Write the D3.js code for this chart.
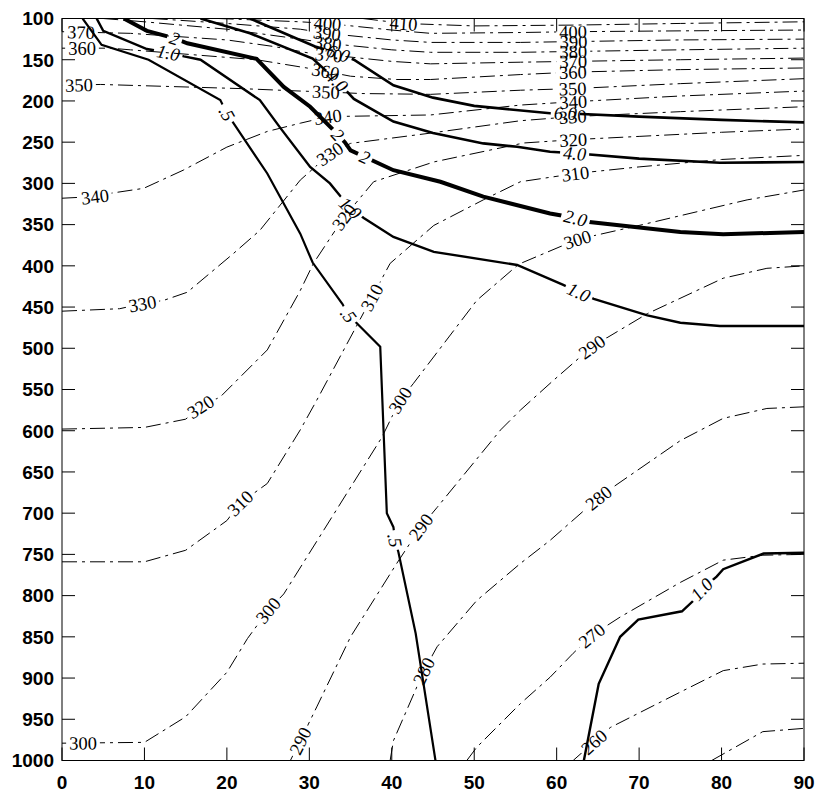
<!DOCTYPE html>
<html>
<head>
<meta charset="utf-8">
<script src="https://cdn.jsdelivr.net/npm/d3@7"></script>
<style>
  body { margin: 0; background: #fff; }
  svg { display: block; }
</style>
</head>
<body>
<svg id="chart" width="816" height="792"></svg>
<script>
// ---- Axis ticks -------------------------------------------------------
const latTicks = [0, 10, 20, 30, 40, 50, 60, 70, 80, 90];
const presTicks = [100, 150, 200, 250, 300, 350, 400, 450, 500, 550,
                   600, 650, 700, 750, 800, 850, 900, 950, 1000];

// ---- Potential temperature contours (K): [latitude, pressure hPa] -----
const theta250 = [[78.8,1000],[85,965],[90,961]];
const theta260 = [[62,1000],[66.5,960],[75,917],[80.2,891],[85,883],[90,882]];
const theta270 = [[49.1,1000],[50.3,984],[55.6,931],[59.2,899],[62,870],[64.3,848],[67.7,826],[75,784],[80.2,757],[85,751],[90,750]];
const theta280 = [[39.8,1000],[40.2,976],[43.9,891],[45.5,862],[50.3,806],[55.6,761],[59.2,733],[65,682],[66.9,668],[75,612],[80.2,585],[85.5,573],[90,571]];
const theta290 = [[27.7,1000],[28.9,976],[30.9,935],[35,850],[40.6,761],[43.5,717],[45.5,693],[53.2,599],[55.6,575],[59.6,539],[64.3,498],[71,458],[80.2,415],[85.5,403],[90,400]];
const theta300 = [[0,979],[10,978],[15,947],[20,893],[22.5,852],[25,818],[26.9,798],[38.8,608],[41,563],[42.6,543],[50.3,442],[55.4,398],[62.5,368],[70,351],[83.1,320],[90,308]];
const theta310 = [[0,759],[10,759],[15,745],[20,709],[21.6,688],[24.9,664],[28.9,599],[30.9,563],[37.6,438],[39.8,397],[45.1,351],[51.1,320],[55.6,298],[62.3,288],[70,280],[80,271],[90,266]];
const theta320 = [[0,598],[10,596],[15,586],[16.8,571],[19.2,559],[24.9,502],[28.9,430],[30.5,397],[34.2,341],[37.8,298],[45.1,274],[56,251],[62,247],[70,243],[80,238],[90,234]];
const theta330 = [[0,455],[7,452],[9.7,446],[12.3,442],[15.2,432],[20.8,385],[24,357],[28.9,296],[32.5,264],[35,251.5],[44.7,239],[55.6,224],[62,219],[75,213],[90,207]];
const theta340 = [[0,318],[4,316],[5.9,312],[9.9,306],[14.7,284],[20,256],[24.9,237],[28.9,227],[32.3,219],[44.7,217],[55.6,205],[62,201],[75,194],[90,188]];
const theta350 = [[0,181],[4.7,180],[21.6,185],[28.9,188],[32,189],[36.2,191],[44.7,192],[55.6,187],[62,185],[75,179],[90,173]];
const theta360 = [[0,136],[5.9,136],[8.3,138],[23.6,150],[30.9,162],[35,170],[40.6,174],[44.7,174],[55.6,168],[62,165],[75,162],[90,160]];
const theta370 = [[0,116],[8.3,118],[20,126],[25.7,134],[30,142],[32.3,144],[40,152],[44.7,155],[55.6,153],[62,152],[75,150],[90,148]];
const theta380 = [[5,100],[10,104],[20,113],[28.9,125],[32.2,130],[40,138],[44.7,141],[55.6,141],[62,140],[75,138],[90,136]];
const theta390 = [[11,100],[20,106],[28.9,113],[32.2,118],[40,126],[44.7,129],[55.6,129],[62,128],[75,126],[90,125]];
const theta400 = [[19,100],[28.9,104],[32.2,106],[40,114],[44.7,118],[55.6,117],[62,116],[75,115],[90,114]];
const theta410 = [[36.5,100],[41.4,106],[50,109],[62,108],[75,106],[90,104]];

// label anchor points along each isentrope
const theta260Labels = [[64.3,974]];
const theta270Labels = [[64.3,848]];
const theta280Labels = [[43.9,891],[65,681]];
const theta290Labels = [[28.9,976],[43.5,717],[64.3,498]];
const theta300Labels = [[2.5,979],[25,818],[41,563],[62.5,368]];
const theta310Labels = [[21.6,688],[37.6,438],[62.3,288]];
const theta320Labels = [[16.8,571],[34.2,341],[62,247]];
const theta330Labels = [[9.7,446],[32.5,264],[62,219]];
const theta340Labels = [[4,316],[32.3,219],[62,201]];
const theta350Labels = [[2.1,181],[32,189],[62,185]];
const theta360Labels = [[2.4,136],[32,162],[62,165]];
const theta370Labels = [[2.3,116],[32.3,144],[62,152]];
const theta380Labels = [[32.2,130],[62,140]];
const theta390Labels = [[32.2,118],[62,128]];
const theta400Labels = [[32.2,106],[62,116]];
const theta410Labels = [[41.4,106]];

// ---- Potential vorticity contours (PVU) -------------------------------
const pv05 = [[2.5,100],[4.8,132],[10.5,150],[19.2,199],[20,215],[20.8,227],[24.9,288],[28.9,361],[30.4,396],[34,446],[34.8,460],[36,472],[38.6,498],[39.4,700],[40.2,717],[40.4,733],[40.8,747],[42.9,846],[45.3,1000]];
const pv10 = [[4.2,100],[5,115],[10.3,137],[12.9,141.5],[14.8,146],[16.8,150],[24,199],[26.5,233],[30.1,280],[32.5,300],[33.8,316],[35,330],[36.6,342],[40.2,365],[45.1,383],[55.2,399],[60.8,423],[62.7,432],[64.5,440],[71,460],[75,469],[79.8,473],[90,473]];
const pv10Polar = [[63.3,1000],[65.1,907],[67.7,850],[69.9,829],[75.2,819],[76.6,806],[77.6,792],[79.4,777],[80.2,768],[85.1,749],[90,748]];
const pv20 = [[7.5,100],[10.3,115],[13.7,124],[15.2,130],[23.6,149],[26.9,183],[30.1,207],[32.9,235],[34.3,250],[35,260],[40.2,284],[45.9,298],[51.1,316],[59.2,336.5],[62.3,342],[63.7,346.6],[75,359],[80.2,361.6],[90,359]];
const pv40 = [[16.8,100],[22.8,118],[30.4,148.6],[33.3,175],[35.4,197.5],[40.2,225],[45,239],[51.1,251.5],[55.2,255.6],[59.2,261.6],[62.2,263.5],[70,270],[79.8,275],[90,274]];
const pv60 = [[22.8,100],[30.7,134],[33.5,142],[35.4,150],[40.2,181],[45,196],[50,206],[59.2,215],[61,215],[70,219],[80,223],[90,226]];

const pv05Labels = [[20,215,".5"],[34.8,460,".5"],[40.4,733,".5"]];
const pv10Labels = [[12.9,141.5,"1.0"],[35,330,"1.0"],[62.7,432,"1.0"]];
const pv10PolarLabels = [[77.6,792,"1.0"]];
const pv20Labels = [[13.7,124,"2"],[33.6,239,"2"],[36.8,266,"2"],[62.3,342,"2.0"]];
const pv40Labels = [[33.3,175,"4.0"],[62.2,263.5,"4.0"]];
const pv60Labels = [[33.5,142,"6.0"],[61,215,"6.0"]];

// ---- Assemble contour list --------------------------------------------
const thetaContours = [
  [250, theta250, []], [260, theta260, theta260Labels], [270, theta270, theta270Labels],
  [280, theta280, theta280Labels], [290, theta290, theta290Labels], [300, theta300, theta300Labels],
  [310, theta310, theta310Labels], [320, theta320, theta320Labels], [330, theta330, theta330Labels],
  [340, theta340, theta340Labels], [350, theta350, theta350Labels], [360, theta360, theta360Labels],
  [370, theta370, theta370Labels], [380, theta380, theta380Labels], [390, theta390, theta390Labels],
  [400, theta400, theta400Labels], [410, theta410, theta410Labels]
].map(([v, pts, labs]) => ({
  pts, labels: labs.map(l => [l[0], l[1], String(v)]),
  stroke: 1, dash: "15,5,3,5", italic: false
}));

const pvContours = [
  { pts: pv05, labels: pv05Labels, stroke: 2.2 },
  { pts: pv10, labels: pv10Labels, stroke: 2.4 },
  { pts: pv10Polar, labels: pv10PolarLabels, stroke: 2.4 },
  { pts: pv20, labels: pv20Labels, stroke: 4 },
  { pts: pv40, labels: pv40Labels, stroke: 2.6 },
  { pts: pv60, labels: pv60Labels, stroke: 2.6 }
].map(c => ({ ...c, dash: null, italic: true }));

const contours = thetaContours.concat(pvContours);

// ---- Layout -------------------------------------------------------------
const W = 816, H = 792;
const L = 62, R = 804, T = 18.5, B = 760.5;
const x = d3.scaleLinear().domain([0, 90]).range([L, R]);
const y = d3.scaleLinear().domain([100, 1000]).range([T, B]);

const svg = d3.select("#chart");
const defs = svg.append("defs");
defs.append("clipPath").attr("id", "plotClip")
  .append("rect").attr("x", L).attr("y", T).attr("width", R - L).attr("height", B - T);

const lineGen = d3.line().x(d => x(d[0])).y(d => y(d[1]));

const linesG = svg.append("g").attr("clip-path", "url(#plotClip)");
const labelsG = svg.append("g").attr("clip-path", "url(#plotClip)");

const labelFont = 18.5;

contours.forEach((c, i) => {
  const mask = defs.append("mask").attr("id", "lm" + i)
    .attr("maskUnits", "userSpaceOnUse")
    .attr("x", 0).attr("y", 0).attr("width", W).attr("height", H);
  mask.append("rect").attr("width", W).attr("height", H).attr("fill", "white");

  const path = linesG.append("path")
    .attr("d", lineGen(c.pts))
    .attr("fill", "none")
    .attr("stroke", "#000")
    .attr("stroke-width", c.stroke)
    .attr("stroke-dasharray", c.dash)
    .attr("mask", "url(#lm" + i + ")");

  const node = path.node();
  const total = node.getTotalLength();

  c.labels.forEach(([lat, p, txt]) => {
    const tx = x(lat), ty = y(p);
    // nearest position along the contour
    let best = 0, bestD = Infinity;
    for (let s = 0; s <= total; s += 1) {
      const q = node.getPointAtLength(s);
      const d = (q.x - tx) ** 2 + (q.y - ty) ** 2;
      if (d < bestD) { bestD = d; best = s; }
    }
    const pos = node.getPointAtLength(best);
    const a = node.getPointAtLength(Math.max(0, best - 10));
    const b = node.getPointAtLength(Math.min(total, best + 10));
    let ang = Math.atan2(b.y - a.y, b.x - a.x) * 180 / Math.PI;
    if (ang > 90) ang -= 180;
    if (ang <= -90) ang += 180;

    const t = labelsG.append("text")
      .attr("transform", `translate(${pos.x},${pos.y}) rotate(${ang})`)
      .attr("text-anchor", "middle")
      .attr("dy", "0.35em")
      .attr("font-family", "'Liberation Serif', 'Times New Roman', serif")
      .attr("font-size", labelFont)
      .attr("font-style", c.italic ? "italic" : "normal")
      .attr("fill", "#000")
      .text(txt);
    const w = t.node().getComputedTextLength();
    mask.append("rect")
      .attr("x", -w / 2 - 3).attr("y", -7)
      .attr("width", w + 6).attr("height", 14)
      .attr("fill", "black")
      .attr("transform", `translate(${pos.x},${pos.y}) rotate(${ang})`);
  });
});

// ---- Frame and ticks ------------------------------------------------------
const axisG = svg.append("g");
axisG.append("rect")
  .attr("x", L).attr("y", T).attr("width", R - L).attr("height", B - T)
  .attr("fill", "none").attr("stroke", "#000").attr("stroke-width", 1);

const tickLen = 13;
presTicks.forEach(p => {
  axisG.append("line").attr("x1", L).attr("x2", L + tickLen)
    .attr("y1", y(p)).attr("y2", y(p)).attr("stroke", "#000");
  axisG.append("line").attr("x1", R).attr("x2", R - tickLen)
    .attr("y1", y(p)).attr("y2", y(p)).attr("stroke", "#000");
});
latTicks.forEach(l => {
  axisG.append("line").attr("x1", x(l)).attr("x2", x(l))
    .attr("y1", B).attr("y2", B - tickLen).attr("stroke", "#000");
  axisG.append("line").attr("x1", x(l)).attr("x2", x(l))
    .attr("y1", T).attr("y2", T + tickLen).attr("stroke", "#000");
});

const tickFont = "'Liberation Sans', Arial, Helvetica, sans-serif";
axisG.selectAll("text.ylab").data(presTicks).enter().append("text")
  .attr("class", "ylab")
  .attr("x", 54).attr("y", d => y(d)).attr("dy", "0.36em")
  .attr("text-anchor", "end")
  .attr("font-family", tickFont).attr("font-weight", "bold").attr("font-size", 19)
  .text(d => d);
axisG.selectAll("text.xlab").data(latTicks).enter().append("text")
  .attr("class", "xlab")
  .attr("x", d => x(d)).attr("y", 789)
  .attr("text-anchor", "middle")
  .attr("font-family", tickFont).attr("font-weight", "bold").attr("font-size", 19)
  .text(d => d);
</script>
</body>
</html>
